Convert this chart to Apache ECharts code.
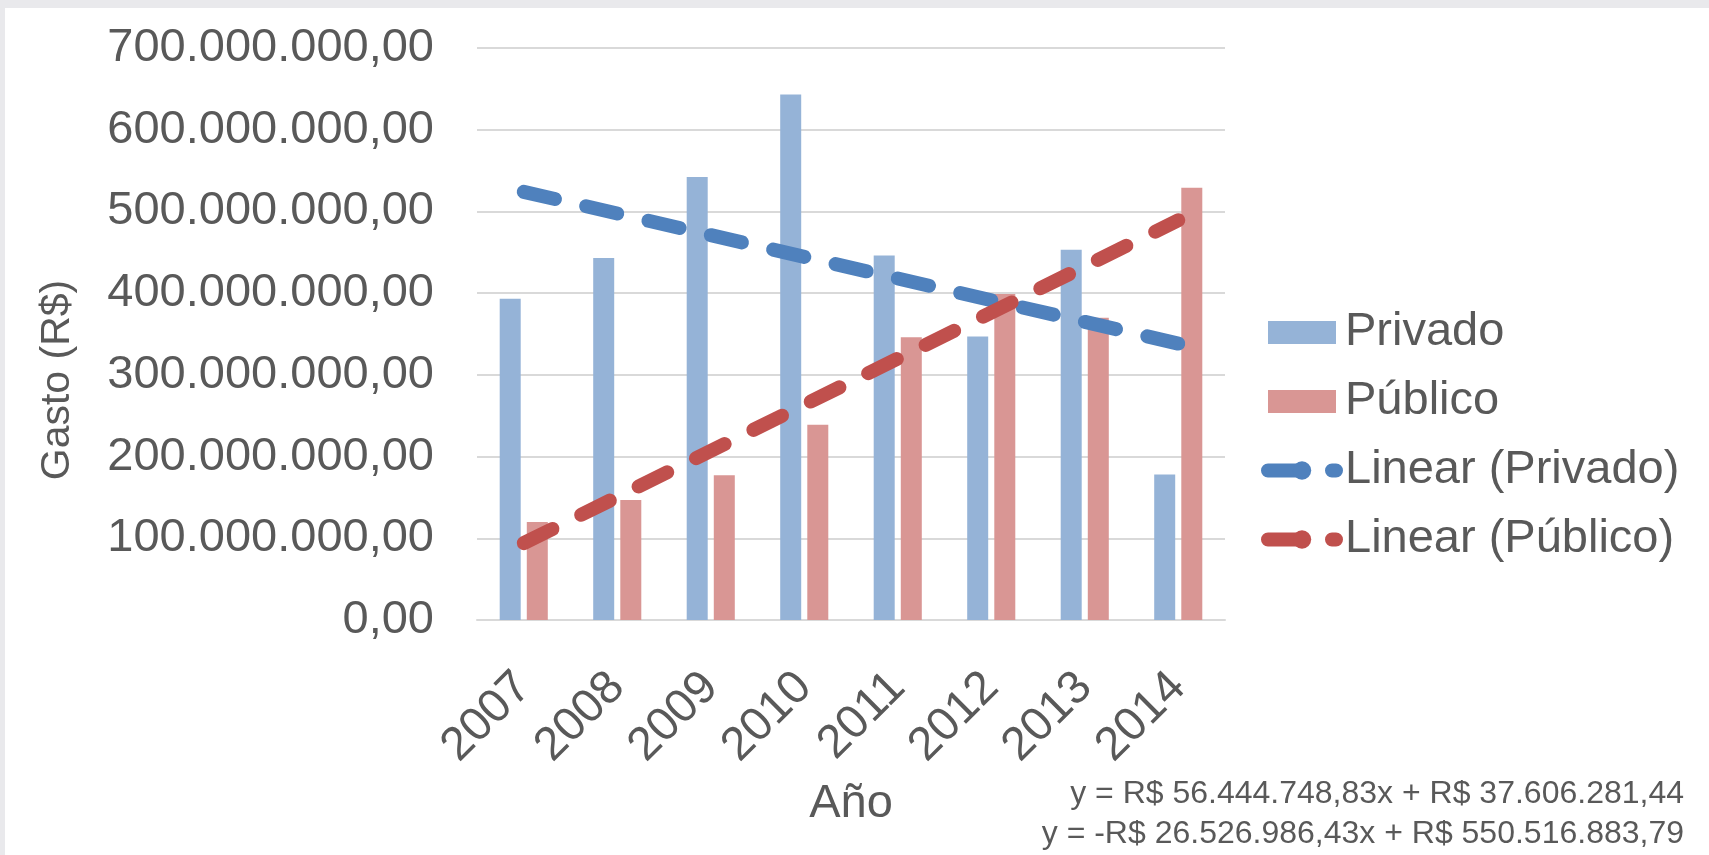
<!DOCTYPE html>
<html>
<head>
<meta charset="utf-8">
<script src="https://cdn.jsdelivr.net/npm/echarts@6/dist/echarts.min.js"></script>
<style>
html,body{margin:0;padding:0;background:#ffffff;overflow:hidden;width:1709px;height:855px}
#bgTop{position:absolute;left:0;top:0;width:1709px;height:8px;background:#e9e9ec}
#bgLeft{position:absolute;left:0;top:0;width:5px;height:855px;background:#e9e9ec}
#chart{position:absolute;left:0;top:0;width:1709px;height:855px}
</style>
</head>
<body>
<div id="bgTop"></div><div id="bgLeft"></div>
<div id="chart"></div>
<script>
// ---- data ----
const categories = ['2007', '2008', '2009', '2010', '2011', '2012', '2013', '2014'];
const privado = [393e6, 443e6, 542e6, 643e6, 446e6, 347e6, 453e6, 178e6];
const publico = [120e6, 147e6, 177e6, 239e6, 346e6, 399e6, 370e6, 529e6];
// trend line values at first (2007) and last (2014) category
const trendCats = ['2007', '2014'];
const trendPrivado = [524.0e6, 338.3e6];
const trendPublico = [94.1e6, 489.2e6];
const yTickLabels = ['0,00', '100.000.000,00', '200.000.000,00', '300.000.000,00',
  '400.000.000,00', '500.000.000,00', '600.000.000,00', '700.000.000,00'];
const seriesNames = ['Privado', 'Público', 'Linear (Privado)', 'Linear (Público)'];
const equations = ['y = R$ 56.444.748,83x + R$ 37.606.281,44',
  'y = -R$ 26.526.986,43x + R$ 550.516.883,79'];

const FONT = "'Liberation Sans', Arial, sans-serif";
const TXT = '#595959';
const C_PRIV = '#95b3d7', C_PUB = '#d99694', C_TPRIV = '#4f81bd', C_TPUB = '#c0504d';
const Y_INTERVAL = 100e6;
const dash = [32, 32];

const chart = echarts.init(document.getElementById('chart'), null, {renderer: 'canvas'});
const option = {
  animation: false,
  textStyle: {fontFamily: FONT},
  grid: {left: 477, right: 484, top: 48, bottom: 235, containLabel: false, outerBoundsMode: 'none'},
  legend: {
    orient: 'vertical', left: 1261, top: 309, padding: 0,
    itemWidth: 68, itemHeight: 23, itemGap: 22,
    textStyle: {fontSize: 47, color: TXT, fontFamily: FONT, lineHeight: 47, padding: [0, 0, 0, 4]},
    data: [
      {name: seriesNames[0], icon: 'rect'},
      {name: seriesNames[1], icon: 'rect'},
      {name: seriesNames[2], lineStyle: {width: 14, type: dash, cap: 'round', color: C_TPRIV}},
      {name: seriesNames[3], lineStyle: {width: 14, type: dash, cap: 'round', color: C_TPUB}}
    ]
  },
  xAxis: {
    type: 'category', data: categories,
    name: 'Año', nameLocation: 'middle', nameGap: 161,
    nameTextStyle: {fontSize: 47, color: TXT, fontFamily: FONT},
    axisLine: {show: true, lineStyle: {color: '#d9d9d9', width: 2}},
    axisTick: {show: false},
    axisLabel: {rotate: 45, margin: 60, fontSize: 47, color: TXT, fontFamily: FONT, interval: 0}
  },
  yAxis: {
    type: 'value', min: 0, max: 700e6, interval: Y_INTERVAL,
    name: 'Gasto (R$)', nameLocation: 'middle', nameGap: 399, nameRotate: 90,
    nameTextStyle: {fontSize: 41, color: TXT, fontFamily: FONT, padding: [0, 92, 0, 0]},
    axisLine: {show: false}, axisTick: {show: false},
    splitLine: {lineStyle: {color: '#d9d9d9', width: 2}},
    axisLabel: {
      fontSize: 47, color: TXT, fontFamily: FONT, margin: 43,
      formatter: function (v) { return yTickLabels[Math.round(v / Y_INTERVAL)]; }
    }
  },
  series: [
    {name: seriesNames[0], type: 'bar', data: privado, barWidth: 21, barGap: '29%',
      itemStyle: {color: C_PRIV}},
    {name: seriesNames[1], type: 'bar', data: publico, barWidth: 21,
      itemStyle: {color: C_PUB}},
    {name: seriesNames[2], type: 'line', z: 5, symbol: 'none',
      data: trendCats.map((c, i) => [c, trendPrivado[i]]),
      lineStyle: {color: C_TPRIV, width: 14, type: dash, cap: 'round'}, itemStyle: {color: C_TPRIV}},
    {name: seriesNames[3], type: 'line', z: 5, symbol: 'none',
      data: trendCats.map((c, i) => [c, trendPublico[i]]),
      lineStyle: {color: C_TPUB, width: 14, type: dash, cap: 'round'}, itemStyle: {color: C_TPUB}}
  ],
  graphic: [
    {type: 'text', right: 25, top: 778, style: {text: equations[0], font: '32px ' + FONT, fill: TXT, textAlign: 'right'}},
    {type: 'text', right: 25, top: 818, style: {text: equations[1], font: '32px ' + FONT, fill: TXT, textAlign: 'right'}}
  ]
};
chart.setOption(option);
</script>
</body>
</html>
